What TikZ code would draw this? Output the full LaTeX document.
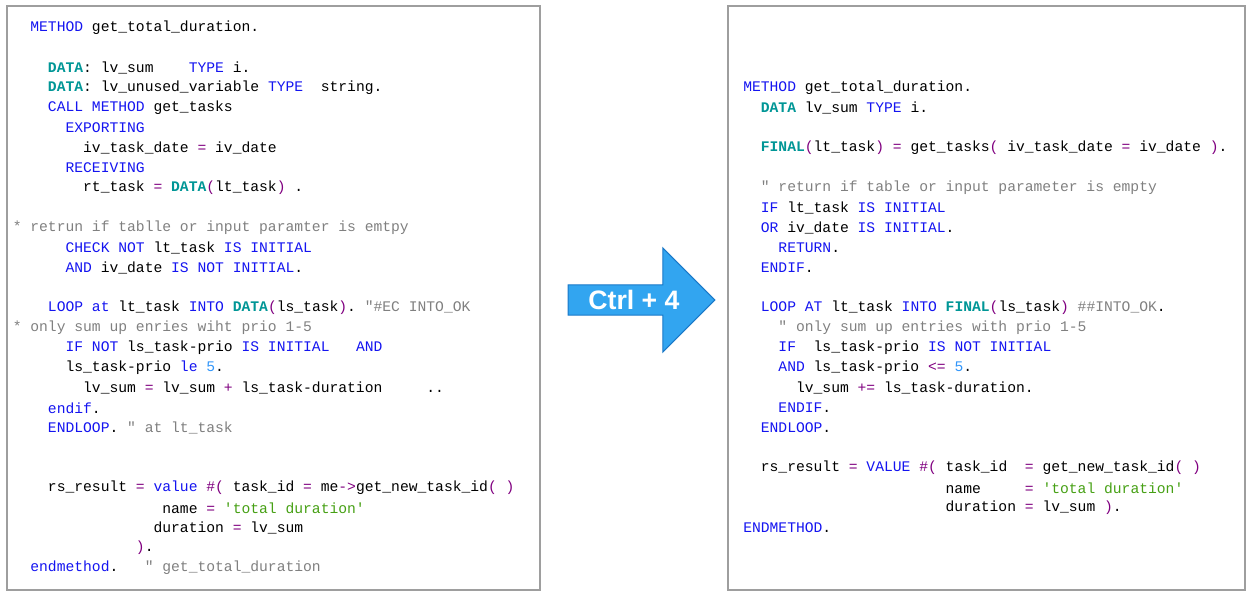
\documentclass[tikz,border=0pt]{standalone}
\usepackage{fontspec}
\setmonofont{Liberation Mono}
\setsansfont{Liberation Sans}
\usetikzlibrary{shapes.arrows}
\definecolor{kwblue}{RGB}{20,20,240}
\definecolor{dtteal}{RGB}{0,150,150}
\definecolor{oppurple}{RGB}{128,0,128}
\definecolor{cmgray}{RGB}{128,128,128}
\definecolor{stgreen}{RGB}{70,160,20}
\definecolor{nmblue}{RGB}{50,150,250}
\definecolor{arrowfill}{RGB}{50,165,240}
\definecolor{arrowdraw}{RGB}{25,120,200}
\newcommand{\kw}[1]{\textcolor{kwblue}{#1}}
\newcommand{\dt}[1]{\textcolor{dtteal}{\bfseries #1}}
\newcommand{\op}[1]{\textcolor{oppurple}{#1}}
\newcommand{\cm}[1]{\textcolor{cmgray}{#1}}
\newcommand{\st}[1]{\textcolor{stgreen}{#1}}
\newcommand{\nm}[1]{\textcolor{nmblue}{#1}}
\tikzset{
  every codeline/.style={anchor=west, inner sep=0pt, font=\ttfamily\fontsize{11}{13}\selectfont\frenchspacing},
  codebox/.style={draw=black!38, line width=1.2pt},
}
\begin{document}
\begin{tikzpicture}[x=0.75pt, y=-0.75pt]
\useasboundingbox (0,0) rectangle (1251,596);

% code boxes
\draw [codebox] (7,6) rectangle (540,590);
\draw [codebox] (728,6) rectangle (1245,590);

% old code
\foreach \c/\y/\t [count=\i] in {
  2/28/{\kw{METHOD} get\_total\_duration.},
  4/68/{\dt{DATA}: lv\_sum~~~~\kw{TYPE} i.},
  4/88/{\dt{DATA}: lv\_unused\_variable \kw{TYPE}~~string.},
  4/108/{\kw{CALL METHOD} get\_tasks},
  6/128/{\kw{EXPORTING}},
  8/148/{iv\_task\_date \op{=} iv\_date},
  6/168/{\kw{RECEIVING}},
  8/188/{rt\_task \op{=} \dt{DATA}\op{(}lt\_task\op{)} .},
  0/228/{\cm{* retrun if tablle or input paramter is emtpy}},
  6/248/{\kw{CHECK NOT} lt\_task \kw{IS INITIAL}},
  6/268/{\kw{AND} iv\_date \kw{IS NOT INITIAL}.},
  4/308/{\kw{LOOP at} lt\_task \kw{INTO} \dt{DATA}\op{(}ls\_task\op{)}. \cm{"\#EC INTO\_OK}},
  0/328/{\cm{* only sum up enries wiht prio 1-5}},
  6/348/{\kw{IF NOT} ls\_task-prio \kw{IS INITIAL}~~~\kw{AND}},
  6/368/{ls\_task-prio \kw{le} \nm{5}.},
  8/388/{lv\_sum \op{=} lv\_sum \op{+} ls\_task-duration~~~~~..},
  4/408/{\kw{endif}.},
  4/428/{\kw{ENDLOOP}. \cm{" at lt\_task}},
  4/488/{rs\_result \op{=} \kw{value} \op{\#(} task\_id \op{=} me\op{->}get\_new\_task\_id\op{( )}},
  17/508/{name \op{=} \st{'total duration'}},
  16/528/{duration \op{=} lv\_sum},
  14/548/{\op{)}.},
  2/568/{\kw{endmethod}.~~~\cm{" get\_total\_duration}}}
  \node [every codeline] (old-\i) at (12.5+8.8*\c,\y) {\t};

% new code
\foreach \c/\y/\t [count=\i] in {
  0/88/{\kw{METHOD} get\_total\_duration.},
  2/108/{\dt{DATA} lv\_sum \kw{TYPE} i.},
  2/148/{\dt{FINAL}\op{(}lt\_task\op{)} \op{=} get\_tasks\op{(} iv\_task\_date \op{=} iv\_date \op{)}.},
  2/188/{\cm{" return if table or input parameter is empty}},
  2/208/{\kw{IF} lt\_task \kw{IS INITIAL}},
  2/228/{\kw{OR} iv\_date \kw{IS INITIAL}.},
  4/248/{\kw{RETURN}.},
  2/268/{\kw{ENDIF}.},
  2/308/{\kw{LOOP AT} lt\_task \kw{INTO} \dt{FINAL}\op{(}ls\_task\op{)} \cm{\#\#INTO\_OK}.},
  4/328/{\cm{" only sum up entries with prio 1-5}},
  4/348/{\kw{IF}~~ls\_task-prio \kw{IS NOT INITIAL}},
  4/368/{\kw{AND} ls\_task-prio \op{<=} \nm{5}.},
  6/388/{lv\_sum \op{+=} ls\_task-duration.},
  4/408/{\kw{ENDIF}.},
  2/428/{\kw{ENDLOOP}.},
  2/468/{rs\_result \op{=} \kw{VALUE} \op{\#(} task\_id~~\op{=} get\_new\_task\_id\op{( )}},
  23/488/{name~~~~~\op{=} \st{'total duration'}},
  23/508/{duration \op{=} lv\_sum \op{)}.},
  0/528/{\kw{ENDMETHOD}.}}
  \node [every codeline] (new-\i) at (743+8.8*\c,\y) {\t};

% shortcut arrow
\node [single arrow, draw=arrowdraw, fill=arrowfill, line width=0.8pt,
  minimum width=78pt, minimum height=110pt, single arrow head extend=19pt,
  inner sep=0pt, text=white, font=\sffamily\bfseries\fontsize{20}{24}\selectfont]
  (shortcut) at (634,300) {Ctrl + 4\hspace{18pt}};

\end{tikzpicture}
\end{document}
